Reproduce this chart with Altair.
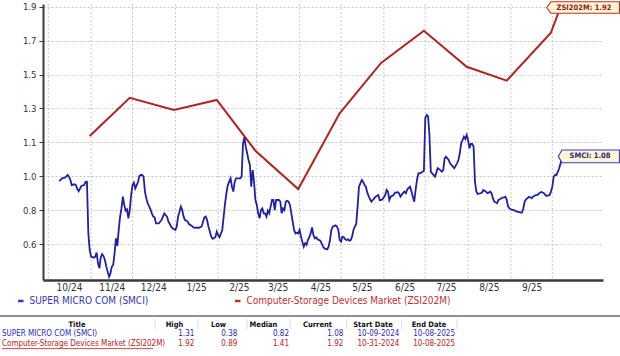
import altair as alt
import pandas as pd

FONT = "DejaVu Sans Condensed, Liberation Sans Narrow, DejaVu Sans, sans-serif"

# ---------------- data ----------------
series_names = ["SUPER MICRO COM (SMCI)", "Computer-Storage Devices Market (ZSI202M)"]
series_colors = ["#2020a6", "#b02424"]
label_colors = ["#3535b5", "#c0302c"]

smci_dates = [
    "2024-10-09", "2024-10-11", "2024-10-13", "2024-10-14", "2024-10-15", "2024-10-16", "2024-10-17", "2024-10-18",
    "2024-10-20", "2024-10-21", "2024-10-22", "2024-10-23", "2024-10-24", "2024-10-25", "2024-10-26", "2024-10-27",
    "2024-10-28", "2024-10-29", "2024-10-30", "2024-10-31", "2024-11-01", "2024-11-03", "2024-11-04", "2024-11-05",
    "2024-11-06", "2024-11-07", "2024-11-08", "2024-11-09", "2024-11-10", "2024-11-11", "2024-11-12", "2024-11-14",
    "2024-11-15", "2024-11-16", "2024-11-17", "2024-11-18", "2024-11-19", "2024-11-20", "2024-11-21", "2024-11-22",
    "2024-11-23", "2024-11-24", "2024-11-25", "2024-11-26", "2024-11-27", "2024-11-28", "2024-11-29", "2024-11-30",
    "2024-12-01", "2024-12-02", "2024-12-03", "2024-12-04", "2024-12-05", "2024-12-06", "2024-12-07", "2024-12-08",
    "2024-12-09", "2024-12-10", "2024-12-11", "2024-12-12", "2024-12-14", "2024-12-15", "2024-12-16", "2024-12-17",
    "2024-12-18", "2024-12-20", "2024-12-21", "2024-12-22", "2024-12-23", "2024-12-24", "2024-12-26", "2024-12-27",
    "2024-12-28", "2024-12-29", "2024-12-30", "2025-01-01", "2025-01-02", "2025-01-03", "2025-01-04", "2025-01-05",
    "2025-01-06", "2025-01-07", "2025-01-08", "2025-01-09", "2025-01-10", "2025-01-11", "2025-01-13", "2025-01-14",
    "2025-01-16", "2025-01-18", "2025-01-20", "2025-01-22", "2025-01-23", "2025-01-24", "2025-01-25", "2025-01-26",
    "2025-01-27", "2025-01-28", "2025-01-30", "2025-01-31", "2025-02-01", "2025-02-02", "2025-02-04", "2025-02-05",
    "2025-02-06", "2025-02-07", "2025-02-08", "2025-02-10", "2025-02-11", "2025-02-12", "2025-02-13", "2025-02-14",
    "2025-02-16", "2025-02-17", "2025-02-18", "2025-02-19", "2025-02-20", "2025-02-21", "2025-02-22", "2025-02-23",
    "2025-02-24", "2025-02-25", "2025-02-26", "2025-02-27", "2025-02-28", "2025-03-01", "2025-03-02", "2025-03-03",
    "2025-03-04", "2025-03-05", "2025-03-06", "2025-03-07", "2025-03-08", "2025-03-09", "2025-03-10", "2025-03-11",
    "2025-03-12", "2025-03-13", "2025-03-14", "2025-03-15", "2025-03-17", "2025-03-18", "2025-03-19", "2025-03-20",
    "2025-03-21", "2025-03-22", "2025-03-23", "2025-03-24", "2025-03-25", "2025-03-26", "2025-03-27", "2025-03-28",
    "2025-03-29", "2025-03-30", "2025-03-31", "2025-04-01", "2025-04-02", "2025-04-04", "2025-04-05", "2025-04-06",
    "2025-04-07", "2025-04-08", "2025-04-09", "2025-04-10", "2025-04-11", "2025-04-12", "2025-04-13", "2025-04-14",
    "2025-04-16", "2025-04-17", "2025-04-18", "2025-04-19", "2025-04-21", "2025-04-22", "2025-04-23", "2025-04-24",
    "2025-04-25", "2025-04-27", "2025-04-28", "2025-04-29", "2025-04-30", "2025-05-01", "2025-05-02", "2025-05-03",
    "2025-05-04", "2025-05-05", "2025-05-06", "2025-05-07", "2025-05-08", "2025-05-09", "2025-05-10", "2025-05-11",
    "2025-05-12", "2025-05-13", "2025-05-14", "2025-05-16", "2025-05-17", "2025-05-18", "2025-05-19", "2025-05-20",
    "2025-05-22", "2025-05-23", "2025-05-24", "2025-05-25", "2025-05-26", "2025-05-28", "2025-05-29", "2025-05-30",
    "2025-05-31", "2025-06-01", "2025-06-02", "2025-06-03", "2025-06-04", "2025-06-05", "2025-06-06", "2025-06-08",
    "2025-06-09", "2025-06-10", "2025-06-11", "2025-06-12", "2025-06-13", "2025-06-15", "2025-06-16", "2025-06-17",
    "2025-06-18", "2025-06-20", "2025-06-21", "2025-06-22", "2025-06-23", "2025-06-24", "2025-06-25", "2025-06-26",
    "2025-06-27", "2025-06-28", "2025-06-29", "2025-06-30", "2025-07-01", "2025-07-02", "2025-07-03", "2025-07-04",
    "2025-07-05", "2025-07-06", "2025-07-07", "2025-07-08", "2025-07-09", "2025-07-10", "2025-07-12", "2025-07-13",
    "2025-07-14", "2025-07-15", "2025-07-16", "2025-07-18", "2025-07-19", "2025-07-20", "2025-07-21", "2025-07-22",
    "2025-07-24", "2025-07-25", "2025-07-26", "2025-07-27", "2025-07-29", "2025-07-30", "2025-07-31", "2025-08-01",
    "2025-08-02", "2025-08-03", "2025-08-04", "2025-08-05", "2025-08-06", "2025-08-07", "2025-08-08", "2025-08-10",
    "2025-08-11", "2025-08-12", "2025-08-14", "2025-08-15", "2025-08-16", "2025-08-17", "2025-08-18", "2025-08-19",
    "2025-08-20", "2025-08-22", "2025-08-23", "2025-08-24", "2025-08-25", "2025-08-27", "2025-08-28", "2025-08-29",
    "2025-08-30", "2025-08-31", "2025-09-01", "2025-09-03", "2025-09-04", "2025-09-05", "2025-09-06", "2025-09-08",
    "2025-09-09", "2025-09-10", "2025-09-11", "2025-09-12", "2025-09-13", "2025-09-14", "2025-09-15", "2025-09-16",
    "2025-09-17", "2025-09-19", "2025-09-20", "2025-09-21", "2025-09-22", "2025-09-23", "2025-09-25", "2025-09-26",
    "2025-09-27", "2025-09-28", "2025-09-29", "2025-09-30", "2025-10-01", "2025-10-02", "2025-10-03", "2025-10-04",
    "2025-10-05", "2025-10-06", "2025-10-07", "2025-10-08",
]
smci_values = [
    0.945, 0.960, 0.963, 0.969, 0.978, 0.969, 0.951, 0.923,
    0.927, 0.923, 0.901, 0.889, 0.903, 0.918, 0.921, 0.923,
    0.940, 0.941, 0.658, 0.567, 0.531, 0.525, 0.531, 0.553,
    0.494, 0.467, 0.527, 0.545, 0.534, 0.512, 0.476, 0.421,
    0.439, 0.476, 0.485, 0.549, 0.631, 0.590, 0.677, 0.750,
    0.795, 0.859, 0.814, 0.783, 0.790, 0.741, 0.786, 0.868,
    0.923, 0.936, 0.905, 0.923, 0.941, 0.973, 0.978, 0.978,
    0.969, 0.887, 0.850, 0.823, 0.790, 0.768, 0.750, 0.746,
    0.713, 0.713, 0.722, 0.731, 0.750, 0.768, 0.750, 0.722,
    0.710, 0.695, 0.686, 0.677, 0.695, 0.750, 0.777, 0.805,
    0.786, 0.750, 0.731, 0.728, 0.722, 0.708, 0.699, 0.691,
    0.689, 0.689, 0.695, 0.746, 0.750, 0.731, 0.695, 0.668,
    0.640, 0.629, 0.637, 0.668, 0.649, 0.637, 0.677, 0.750,
    0.823, 0.878, 0.923, 0.960, 0.914, 0.887, 0.941, 0.960,
    0.960, 0.960, 0.969, 1.150, 1.184, 1.133, 1.097, 1.060,
    1.033, 0.914, 1.005, 0.941, 0.841, 0.814, 0.768, 0.741,
    0.786, 0.795, 0.768, 0.768, 0.750, 0.783, 0.768, 0.805,
    0.841, 0.841, 0.786, 0.841, 0.841, 0.832, 0.768, 0.795,
    0.786, 0.832, 0.837, 0.832, 0.814, 0.768, 0.722, 0.677,
    0.658, 0.662, 0.658, 0.677, 0.640, 0.585, 0.604, 0.595,
    0.622, 0.637, 0.658, 0.691, 0.649, 0.631, 0.637, 0.626,
    0.618, 0.604, 0.585, 0.576, 0.571, 0.585, 0.622, 0.677,
    0.695, 0.702, 0.695, 0.680, 0.622, 0.613, 0.640, 0.637,
    0.626, 0.622, 0.626, 0.618, 0.622, 0.640, 0.677, 0.695,
    0.710, 0.805, 0.914, 0.951, 0.941, 0.923, 0.914, 0.881,
    0.845, 0.832, 0.841, 0.850, 0.859, 0.868, 0.841, 0.841,
    0.845, 0.856, 0.868, 0.896, 0.887, 0.841, 0.859, 0.868,
    0.881, 0.881, 0.885, 0.878, 0.859, 0.881, 0.887, 0.878,
    0.900, 0.914, 0.887, 0.859, 0.832, 0.896, 0.951, 0.987,
    0.987, 0.991, 0.996, 1.000, 1.290, 1.307, 1.300, 1.200,
    0.996, 0.987, 0.978, 0.969, 0.991, 1.015, 1.005, 0.996,
    1.005, 1.069, 1.078, 1.060, 1.042, 1.033, 1.024, 1.015,
    1.042, 1.060, 1.097, 1.151, 1.188, 1.175, 1.197, 1.170,
    1.124, 1.148, 1.148, 1.133, 0.941, 0.887, 0.874, 0.878,
    0.881, 0.896, 0.887, 0.878, 0.881, 0.887, 0.878, 0.850,
    0.832, 0.823, 0.841, 0.845, 0.850, 0.856, 0.859, 0.841,
    0.805, 0.795, 0.790, 0.786, 0.783, 0.777, 0.777, 0.772,
    0.772, 0.795, 0.832, 0.845, 0.850, 0.859, 0.856, 0.850,
    0.859, 0.868, 0.868, 0.874, 0.881, 0.885, 0.878, 0.868,
    0.863, 0.867, 0.868, 0.887, 0.914, 0.969, 0.978, 0.978,
    0.996, 1.015, 1.042, 1.080,
]

zsi_dates = ["2024-10-31", "2024-11-29", "2024-12-31", "2025-01-31", "2025-02-28", "2025-03-31",
             "2025-04-30", "2025-05-30", "2025-06-30", "2025-07-31", "2025-08-29", "2025-09-30", "2025-10-08"]
zsi_values = [1.192, 1.401, 1.334, 1.389, 1.111, 0.901, 1.316, 1.592, 1.768, 1.571, 1.495, 1.758, 1.920]

y_tick_values = [0.6, 0.785714, 0.971429, 1.157143, 1.342857, 1.528571, 1.714286, 1.9]
y_tick_labels = ["0.6", "0.8", "1.0", "1.1", "1.3", "1.5", "1.7", "1.9"]

month_starts = ["2024-10-01", "2024-11-01", "2024-12-01", "2025-01-01", "2025-02-01", "2025-03-01", "2025-04-01",
                "2025-05-01", "2025-06-01", "2025-07-01", "2025-08-01", "2025-09-01", "2025-10-01"]
month_label_days = [(2024, 10), (2024, 11), (2024, 12), (2025, 1), (2025, 2), (2025, 3),
                    (2025, 4), (2025, 5), (2025, 6), (2025, 7), (2025, 8), (2025, 9)]

table_columns = ["Title", "High", "Low", "Median", "Current", "Start Date", "End Date"]
table_smci = ["1.31", "0.38", "0.82", "1.08", "10-09-2024", "10-08-2025"]
table_zsi = ["1.92", "0.89", "1.41", "1.92", "10-31-2024", "10-08-2025"]

end_labels = ["ZSI202M: 1.92", "SMCI: 1.08"]

# ---------------- layout helpers ----------------
PAD_L, PAD_T = 43, 4
W, H = 560, 276


def px(x):
    return x - PAD_L


def py(y):
    return y - PAD_T


smci_df = pd.DataFrame({"date": smci_dates, "value": smci_values})
zsi_df = pd.DataFrame({"date": zsi_dates, "value": zsi_values})
grid_df = pd.DataFrame({"date": month_starts})

label_expr = "[" + ",".join("'%s'" % s for s in y_tick_labels) + "][round((datum.value - %g) / %g)]" % (
    y_tick_values[0], (y_tick_values[-1] - y_tick_values[0]) / (len(y_tick_values) - 1))

x_scale = alt.Scale(type="utc", domain=[alt.DateTime(year=2024, month=9, date=27, hours=4, utc=True),
                                        alt.DateTime(year=2025, month=11, date=6, hours=17, utc=True)])
y_scale = alt.Scale(domain=[0.4028, 1.9148], nice=False, zero=False)

x_enc = alt.X("date:T", scale=x_scale, title=None,
              axis=alt.Axis(values=[alt.DateTime(year=y, month=m, date=16, utc=True) for y, m in month_label_days],
                            labelExpr="utcFormat(datum.value, '%-m/%y')", tickSize=0, grid=False,
                            domainColor="#3a3a3a", domainWidth=2.5, labelFont=FONT, labelFontSize=10,
                            labelColor="#333333", labelPadding=2, labelAngle=0))
y_enc = alt.Y("value:Q", scale=y_scale, title=None,
              axis=alt.Axis(values=y_tick_values, labelExpr=label_expr, grid=True, gridColor="#c4c4c4",
                            gridDash=[2, 2], gridWidth=1, tickSize=4, tickColor="#3a3a3a", domainColor="#3a3a3a",
                            domainWidth=2, labelFont=FONT, labelFontSize=9.5, labelColor="#333333",
                            labelPadding=3))

vgrid = alt.Chart(grid_df).mark_rule(color="#c8c8c8", strokeDash=[2, 2], strokeWidth=1).encode(x=x_enc)

red_line = alt.Chart(zsi_df).mark_line(color=series_colors[1], strokeWidth=2).encode(x=x_enc, y=y_enc)
blue_line = alt.Chart(smci_df).mark_line(color=series_colors[0], strokeWidth=1.8).encode(x=x_enc, y=y_enc)

zsi_end = zsi_df.tail(1).assign(label=end_labels[0])
smci_end = smci_df.tail(1).assign(label=end_labels[1])

zsi_tag = alt.Chart(zsi_end).mark_point(
    shape="M-15.3,4.45L-11,-1.35L57.5,-1.35L57.5,10.25L-11,10.25Z", size=4, filled=True,
    fill="#fff5d2", stroke="#c0302c", strokeWidth=1.1, opacity=1).encode(x=x_enc, y=y_enc)
zsi_tag_text = alt.Chart(zsi_end).mark_text(
    dx=22, dy=4.5, font=FONT, fontSize=7.5, fontWeight="bold", color="#8e1b1b").encode(x=x_enc, y=y_enc, text="label:N")

smci_tag = alt.Chart(smci_end).mark_point(
    shape="M-3.7,0L0,-6.4L57.5,-6.4L57.5,6.3L0,6.3Z", size=4, filled=True,
    fill="#fff5d2", stroke="#3b3bc8", strokeWidth=1.1, opacity=1).encode(x=x_enc, y=y_enc)
smci_tag_text = alt.Chart(smci_end).mark_text(
    dx=28, dy=0, font=FONT, fontSize=7.5, fontWeight="bold", color="#1c2a78").encode(x=x_enc, y=y_enc, text="label:N")


def text_at(x, y, s, **kw):
    return alt.Chart(pd.DataFrame({"t": [s]})).mark_text(font=FONT, **kw).encode(
        x=alt.value(px(x)), y=alt.value(py(y)), text="t:N")


def hrule(x1, x2, y, **kw):
    return alt.Chart(pd.DataFrame({"a": [0]})).mark_rule(**kw).encode(
        x=alt.value(px(x1)), x2=alt.value(px(x2)), y=alt.value(py(y)))


def vrule(x, y1, y2, **kw):
    return alt.Chart(pd.DataFrame({"a": [0]})).mark_rule(**kw).encode(
        x=alt.value(px(x)), y=alt.value(py(y1)), y2=alt.value(py(y2)))


extras = []
# legend
legend_dash_x = [(18, 23.5), (235, 240.5)]
legend_text_x = [29.5, 246.5]
for i in range(2):
    extras.append(hrule(legend_dash_x[i][0], legend_dash_x[i][1], 301, color=label_colors[i], strokeWidth=2.5))
    extras.append(text_at(legend_text_x[i], 301, series_names[i], fontSize=10, align="left",
                          baseline="middle", color=label_colors[i]))

# table
extras.append(hrule(0, 620, 316, color="#8a9099", strokeWidth=2.2))
for xs in [155, 198, 247, 290, 346.7, 401.7, 457]:
    extras.append(vrule(xs, 319, 329.5, color="#dcdcdc", strokeWidth=1))
header_x = [77, 174.5, 218.5, 263.5, 317.5, 373, 429]
value_right = [194.3, 237.3, 289, 343.3, 399.3, 455]
for c, hx in zip(table_columns, header_x):
    extras.append(text_at(hx, 325, c, fontSize=7.5, fontWeight="bold", align="center", baseline="middle",
                          color="#111111"))
table_colors = ["#2a2ab8", "#c0201c"]
rows = [table_smci, table_zsi]
row_y = [334.3, 344]
for r in range(2):
    extras.append(text_at(2, row_y[r], series_names[r], fontSize=8, align="left", baseline="middle",
                          color=table_colors[r]))
    for v, vx in zip(rows[r], value_right):
        extras.append(text_at(vx, row_y[r], v, fontSize=8, align="right", baseline="middle",
                              color=table_colors[r]))
extras.append(hrule(2, 153, 348.6, color=table_colors[1], strokeWidth=0.8))

chart = alt.layer(vgrid, red_line, blue_line, zsi_tag, zsi_tag_text, smci_tag, smci_tag_text, *extras).properties(
    width=W, height=H, autosize="none",
    padding={"left": PAD_L, "top": PAD_T, "right": 620 - PAD_L - W, "bottom": 356 - PAD_T - H},
    background="white",
).configure_view(strokeWidth=0)

chart.save("out.html", embed_options={"renderer": "svg", "actions": False})
